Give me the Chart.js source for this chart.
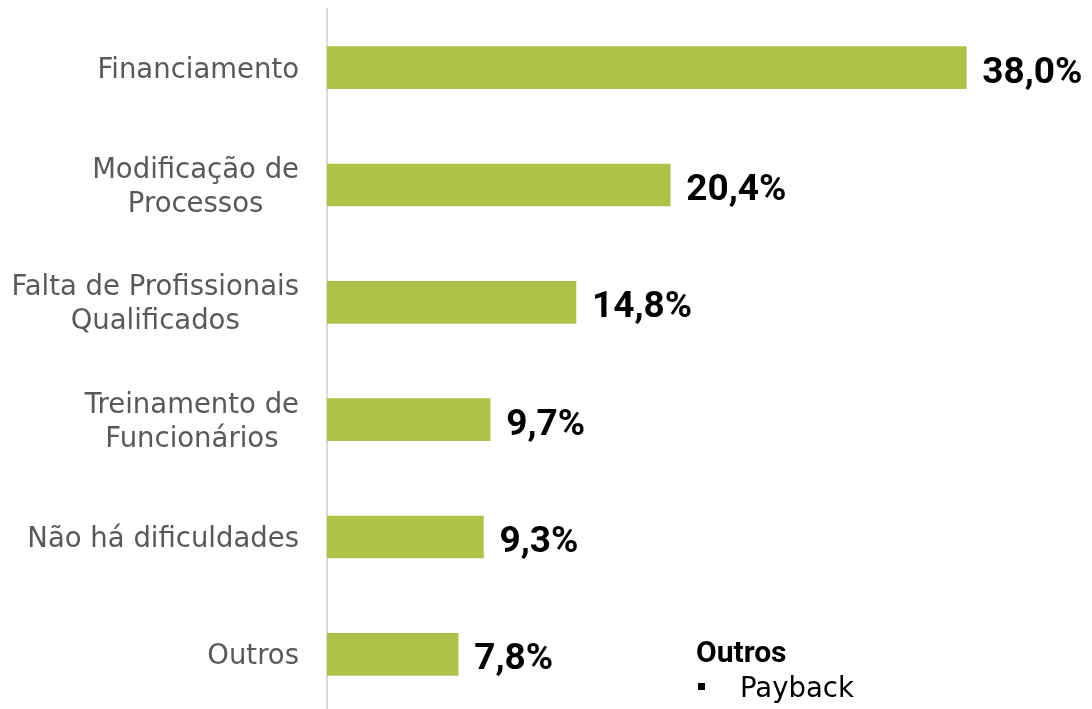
<!DOCTYPE html>
<html lang="pt">
<head>
<meta charset="utf-8">
<title>Dificuldades</title>
<script src="https://cdn.jsdelivr.net/npm/chart.js@4/dist/chart.umd.min.js"></script>
<style>
  html, body { margin: 0; padding: 0; background: #ffffff; overflow: hidden; }
  #wrap { position: relative; width: 1092px; height: 713px; }
</style>
</head>
<body>
<div id="wrap"><canvas id="c" width="1092" height="713"></canvas></div>
<script>
// Categories (multi-line labels) and their shares in percent
const categories = [
  ["Financiamento"],
  ["Modificação de", "Processos"],
  ["Falta de Profissionais", "Qualificados"],
  ["Treinamento de", "Funcionários"],
  ["Não há dificuldades"],
  ["Outros"]
];
const values = [38.0, 20.4, 14.8, 9.7, 9.3, 7.8];

// Note shown in the lower right corner
const noteTitle = "Outros";
const noteItems = ["Payback"];

const BAR_COLOR = "#AFC148";
const LABEL_COLOR = "#595959";

const fmt = v => v.toFixed(1).replace(".", ",") + "%";

// Category labels: block right-aligned against the axis, lines centred within the block
const categoryLabels = {
  id: "categoryLabels",
  afterDraw(chart) {
    const ctx = chart.ctx;
    const y = chart.scales.y;
    const right = y.right - 28;
    const lh = 34;
    ctx.save();
    ctx.font = "27.5px 'DejaVu Sans'";
    ctx.fillStyle = LABEL_COLOR;
    ctx.textAlign = "center";
    ctx.textBaseline = "alphabetic";
    categories.forEach((lines, i) => {
      const cy = y.getPixelForValue(i);
      const w = Math.max(...lines.map(l => ctx.measureText(l).width));
      const cx = right - w / 2;
      lines.forEach((line, k) => {
        const ly = cy + (k - (lines.length - 1) / 2) * lh + 10;
        ctx.fillText(line, cx, ly);
      });
    });
    ctx.restore();
  }
};

// Value labels at the end of each bar
const valueLabels = {
  id: "valueLabels",
  afterDatasetsDraw(chart) {
    const ctx = chart.ctx;
    const meta = chart.getDatasetMeta(0);
    ctx.save();
    ctx.font = "bold 37px Roboto";
    ctx.fillStyle = "#000000";
    ctx.textAlign = "left";
    ctx.textBaseline = "alphabetic";
    meta.data.forEach((bar, i) => {
      ctx.fillText(fmt(values[i]), bar.x + 16, bar.y + 15);
    });
    ctx.restore();
  }
};

// Note block: bold title followed by bulleted items
const noteBlock = {
  id: "noteBlock",
  afterDraw(chart) {
    const ctx = chart.ctx;
    ctx.save();
    ctx.fillStyle = "#000000";
    ctx.textAlign = "left";
    ctx.textBaseline = "alphabetic";
    ctx.font = "bold 30px Roboto";
    ctx.fillText(noteTitle, 696, 662);
    ctx.font = "27.5px 'DejaVu Sans'";
    noteItems.forEach((item, k) => {
      const base = 697 + k * 34;
      ctx.fillRect(698, base - 14, 7, 7);
      ctx.fillText(item, 740, base);
    });
    ctx.restore();
  }
};

new Chart(document.getElementById("c"), {
  type: "bar",
  data: {
    labels: categories,
    datasets: [{
      data: values,
      backgroundColor: BAR_COLOR,
      borderWidth: 0,
      barThickness: 42
    }]
  },
  options: {
    indexAxis: "y",
    responsive: false,
    animation: false,
    layout: { padding: { top: 9, right: 8, bottom: 0, left: 0 } },
    plugins: {
      legend: { display: false },
      tooltip: { enabled: false }
    },
    scales: {
      x: {
        display: false,
        min: 0,
        max: 45
      },
      y: {
        ticks: { display: false },
        grid: { display: true, drawOnChartArea: false, drawTicks: false, color: "rgba(0,0,0,0)" },
        border: { display: true, color: "#D9D9D9", width: 2 },
        afterFit(scale) { scale.width = 327; }
      }
    }
  },
  plugins: [categoryLabels, valueLabels, noteBlock]
});
</script>
</body>
</html>
